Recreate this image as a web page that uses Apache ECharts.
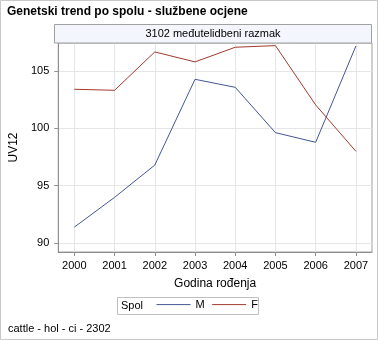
<!DOCTYPE html>
<html>
<head>
<meta charset="utf-8">
<script src="https://cdn.jsdelivr.net/npm/echarts@6/dist/echarts.min.js"></script>
<style>
  html, body { margin: 0; padding: 0; background: #fff; }
  #chart { width: 378px; height: 340px; }
</style>
</head>
<body>
<div id="chart"></div>
<script>
// Birth years and breeding values (UV12) per sex
const years = [2000, 2001, 2002, 2003, 2004, 2005, 2006, 2007];
const maleValues = [91.37, 93.97, 96.79, 104.28, 103.58, 99.62, 98.78, 107.19];
const femaleValues = [103.41, 103.32, 106.67, 105.8, 107.08, 107.22, 102.04, 97.99];
const yTicks = [90, 95, 100, 105];
const seriesNames = ['M', 'F'];

const FONT = '"Liberation Sans", Arial, sans-serif';
const AXIS_GRAY = '#8f8f8f';
const COLOR_M = '#445694';
const COLOR_F = '#A23A2E';

const pair = (vals) => years.map((y, i) => [y, vals[i]]);

const chart = echarts.init(document.getElementById('chart'), null, { renderer: 'canvas' });

chart.setOption({
  animation: false,
  backgroundColor: '#fff',
  color: [COLOR_M, COLOR_F],
  textStyle: { fontFamily: FONT },
  title: {
    text: 'Genetski trend po spolu - službene ocjene',
    left: 7, top: 6, padding: 0,
    textStyle: { fontFamily: FONT, fontSize: 12, fontWeight: 'bold', color: '#000' }
  },
  grid: {
    left: 55, top: 43, right: 6, bottom: 88,
    show: true, borderColor: '#a0a0a0', borderWidth: 1, backgroundColor: 'transparent'
  },
  xAxis: {
    type: 'value',
    min: 1999.6, max: 2007.4,
    name: 'Godina rođenja',
    nameLocation: 'middle',
    nameGap: 26,
    nameTextStyle: { fontFamily: FONT, fontSize: 12, color: '#000' },
    axisLine: { show: true, lineStyle: { color: AXIS_GRAY } },
    axisTick: { show: true, length: 4, lineStyle: { color: AXIS_GRAY }, customValues: years },
    axisLabel: { customValues: years, margin: 8, fontFamily: FONT, fontSize: 11, color: '#000',
      formatter: (v) => String(Math.round(v)) },
    splitLine: { show: true, lineStyle: { color: '#e6e6e6', width: 1 } }
  },
  yAxis: {
    type: 'value',
    min: 89.2, max: 107.45,
    name: 'UV12',
    nameLocation: 'middle',
    nameGap: 35,
    nameTextStyle: { fontFamily: FONT, fontSize: 12, color: '#000' },
    axisLine: { show: true, lineStyle: { color: AXIS_GRAY } },
    axisTick: { show: true, length: 4, lineStyle: { color: AXIS_GRAY }, customValues: yTicks },
    axisLabel: { customValues: yTicks, margin: 9, fontFamily: FONT, fontSize: 11, color: '#000' },
    splitLine: { show: true, lineStyle: { color: '#e6e6e6', width: 1 } }
  },
  legend: {
    data: seriesNames,
    left: 156, top: 299, padding: 0,
    itemWidth: 34, itemHeight: 14,
    itemGap: 7,
    itemStyle: { opacity: 0 },
    lineStyle: { width: 1 },
    textStyle: { fontFamily: FONT, fontSize: 11, color: '#000' }
  },
  series: [
    {
      name: seriesNames[0], type: 'line', data: pair(maleValues),
      symbol: 'none', lineStyle: { color: COLOR_M, width: 1 }, itemStyle: { color: COLOR_M }
    },
    {
      name: seriesNames[1], type: 'line', data: pair(femaleValues),
      symbol: 'none', lineStyle: { color: COLOR_F, width: 1 }, itemStyle: { color: COLOR_F }
    }
  ],
  graphic: [
    // outer frame
    { type: 'rect', shape: { x: 0.5, y: 0.5, width: 377, height: 339 },
      style: { fill: null, stroke: '#c8c8c8', lineWidth: 1 }, silent: true },
    // panel header strip
    { type: 'rect', shape: { x: 54.5, y: 24.5, width: 317, height: 18.5 },
      style: { fill: '#f3f6fd', stroke: '#a0a0a0', lineWidth: 1 }, z: 10 },
    { type: 'text', x: 213, y: 34, z: 11,
      style: { text: '3102 međutelidbeni razmak', fontFamily: FONT, fontSize: 11, fill: '#000',
        align: 'center', verticalAlign: 'middle' } },
    // legend frame and title
    { type: 'rect', shape: { x: 117.5, y: 297.5, width: 141, height: 17 },
      style: { fill: null, stroke: '#c0c0c0', lineWidth: 1 }, z: 10 },
    { type: 'text', x: 121, y: 306, z: 11,
      style: { text: 'Spol', fontFamily: FONT, fontSize: 11, fill: '#000', verticalAlign: 'middle' } },
    // footnote
    { type: 'text', x: 8, y: 329, z: 11,
      style: { text: 'cattle - hol - ci - 2302', fontFamily: FONT, fontSize: 11, fill: '#000', verticalAlign: 'middle' } }
  ]
});
</script>
</body>
</html>
